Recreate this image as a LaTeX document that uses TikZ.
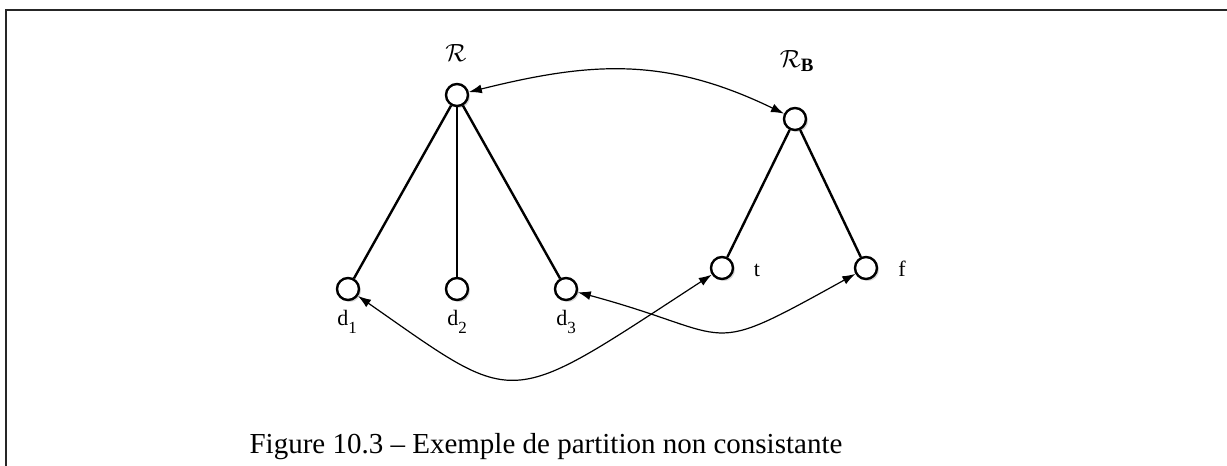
\documentclass[tikz,border=0pt]{standalone}
\usepackage{fontspec}
\setmainfont{Liberation Serif}
\usepackage{amsmath}
\usetikzlibrary{arrows.meta, shadows, positioning}

% lowered index for the leaf labels
\newcommand{\idx}[1]{\raisebox{-8pt}{\fontsize{17}{17}\selectfont #1}}

\begin{document}
\begin{tikzpicture}[
    x=1pt, y=-1pt,
    elem/.style={circle, draw=black, fill=white, line width=2.4pt, minimum size=22pt, inner sep=0pt,
                 drop shadow={shadow xshift=2pt, shadow yshift=-2pt, opacity=0.3}},
    branch/.style={line width=2.4pt, black},
    link/.style={{Latex[length=13pt,width=9pt]}-{Latex[length=13pt,width=9pt]}, line width=1.2pt, black},
    lbl/.style={font=\fontsize{22}{26}\selectfont, inner sep=0pt},
    rootlbl/.style={font=\fontsize{27}{30}\selectfont, inner sep=0pt},
    capt/.style={font=\fontsize{29}{34}\selectfont, inner sep=0pt}
]
\useasboundingbox (0,0) rectangle (1227,466);

% open frame (top and left edges)
\draw[line width=2pt, black!85] (6,466) -- (6,10) -- (1227,10);

% roots
\node[elem] (R)  at (457,95)  {};
\node[elem] (RB) at (795,119) {};
\node[rootlbl] (R_lbl)  at (456,53) {$\mathcal{R}$};
\node[rootlbl] (RB_lbl) at (797,61) {$\mathcal{R}_{\mathbf{B}}$};

% leaves of R
\node[elem] (d1) at (348,289) {};
\node[elem] (d2) at (457,289) {};
\node[elem] (d3) at (566,289) {};
\node[lbl] (d1_lbl) at (347,322) {d\idx{1}};
\node[lbl] (d2_lbl) at (457,322) {d\idx{2}};
\node[lbl] (d3_lbl) at (566,322) {d\idx{3}};

% leaves of R_B
\node[elem] (t) at (722,268) {};
\node[elem] (f) at (866,268) {};
\node[lbl] (t_lbl) at (757,270) {t};
\node[lbl] (f_lbl) at (902,269) {f};

% tree edges
\draw[branch] (R) -- (d1);
\draw[branch] (R) -- (d2);
\draw[branch] (R) -- (d3);
\draw[branch] (RB) -- (t);
\draw[branch] (RB) -- (f);

% correspondences
\draw[link] (R) .. controls (590,62) and (665,56) .. (RB);
\draw[link] (d1) .. controls (520,409) and (504,410) .. (t);
\draw[link] (d3) .. controls (740,336) and (700,360) .. (f);

% caption
\node[capt] (caption) at (546,447) {Figure 10.3 – Exemple de partition non consistante};

\end{tikzpicture}
\end{document}
